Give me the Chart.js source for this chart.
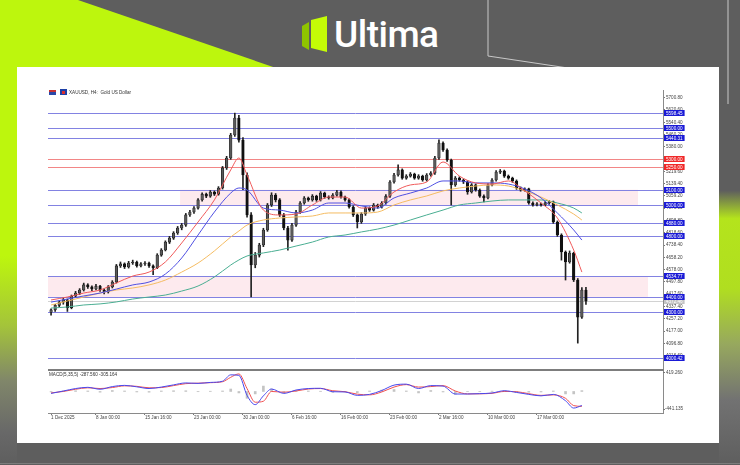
<!DOCTYPE html>
<html>
<head>
<meta charset="utf-8">
<title>XAUUSD H4 - Ultima</title>
<script src="https://cdn.jsdelivr.net/npm/chart.js@4.4.1/dist/chart.umd.min.js"></script>
<style>
  html, body { margin: 0; padding: 0; }
  body { width: 740px; height: 465px; overflow: hidden; position: relative; background: #5e5e5e; }
  #backdrop { position: absolute; left: 0; top: 0; }
  #logoText { position: absolute; left: 334px; top: 13px; color: #fff; font: 500 37px Roboto, sans-serif; letter-spacing: -0.5px; line-height: 44px; }
  #panel { position: absolute; left: 17px; top: 67px; width: 702px; height: 376px; background: #fff; }
  #priceChart { position: absolute; left: 17px; top: 67px; }
  #macdChart { position: absolute; left: 17px; top: 369px; }
</style>
</head>
<body>
<svg id="backdrop" width="740" height="465">
  <defs>
    <linearGradient id="leftFade" gradientUnits="userSpaceOnUse" x1="0" y1="0" x2="0" y2="465">
      <stop offset="0" stop-color="#bdf60d"/>
      <stop offset="0.55" stop-color="#bdf60d"/>
      <stop offset="0.7" stop-color="#a4c43a"/>
      <stop offset="0.82" stop-color="#80866a"/>
      <stop offset="0.93" stop-color="#686868"/>
      <stop offset="1" stop-color="#5e5e5e"/>
    </linearGradient>
    <linearGradient id="rightFade" gradientUnits="userSpaceOnUse" x1="0" y1="0" x2="0" y2="465">
      <stop offset="0" stop-color="#5e5e5e"/>
      <stop offset="0.41" stop-color="#5e5e5e"/>
      <stop offset="0.47" stop-color="#b4e41c"/>
      <stop offset="0.62" stop-color="#b0de20"/>
      <stop offset="0.74" stop-color="#97a85e"/>
      <stop offset="0.86" stop-color="#727272"/>
      <stop offset="1" stop-color="#5e5e5e"/>
    </linearGradient>
  </defs>
  <rect x="0" y="0" width="740" height="465" fill="#5e5e5e"/>
  <rect x="0" y="0" width="17" height="465" fill="url(#leftFade)"/>
  <polygon points="0,0 78,0 282,70 0,70" fill="#bdf60d"/>
  <rect x="719" y="0" width="21" height="465" fill="url(#rightFade)"/>
  <polyline points="488,0 488,56 568,68" fill="none" stroke="#c8c8c8" stroke-width="1"/>
  <polyline points="728,0 728,104" fill="none" stroke="#c8c8c8" stroke-width="1"/>
  <line x1="0" y1="463.5" x2="740" y2="463.5" stroke="#7c7c7c" stroke-width="1"/>
  <polygon points="302,26 309,22 309,50 302,46" fill="#8fc400"/>
  <polygon points="311,20 327,16 327,52 311,48" fill="#c4fc06"/>
</svg>
<div id="logoText">Ultima</div>
<div id="panel"></div>
<canvas id="priceChart" width="702" height="304"></canvas>
<canvas id="macdChart" width="702" height="74"></canvas>
<script>
const timeLabels = ['1 Dec 2025', '8 Jan 00:00', '15 Jan 16:00', '23 Jan 00:00', '30 Jan 00:00', '6 Feb 16:00',
    '16 Feb 00:00', '23 Feb 00:00', '2 Mar 16:00', '10 Mar 00:00', '17 Mar 00:00'];
const timeLabelBars = [0, 11, 23, 35, 47, 59, 71, 83, 95, 107, 119];

const priceTicks = [5700.8, 5620.6, 5540.4, 5460.2, 5380.0, 5299.8, 5219.6, 5139.4, 5059.2, 4979.0, 4898.8,
    4818.6, 4738.4, 4658.2, 4578.0, 4497.8, 4417.6, 4337.4, 4257.2, 4177.0, 4096.8, 4016.6];

// H4 candles, one per bar index
const barOpen = [4300,4315,4345,4365,4380,4330,4405,4425,4445,4478,
    4465,4452,4470,4445,4432,4465,4497,4602,4615,4595,
    4621,4628,4602,4615,4621,4602,4590,4673,4706,4758,
    4784,4817,4850,4869,4935,4954,4980,5033,5071,5058,
    5085,5071,5111,5242,5307,5457,5568,5424,5196,4935,
    4608,4673,4739,4837,5000,5065,5033,4935,4850,4771,
    4869,4954,5013,5046,5033,5058,5033,5078,5052,5046,
    5065,5085,5052,5033,4987,4935,4889,4941,4980,4967,
    5000,4987,5013,5058,5150,5196,5229,5176,5189,5202,
    5176,5189,5163,5196,5209,5307,5405,5359,5294,5131,
    5176,5163,5150,5085,5131,5098,5058,5046,5131,5163,
    5215,5222,5189,5176,5157,5111,5098,5105,5013,5000,
    5007,5000,5013,5020,4889,4804,4693,4628,4686,4510,
    4268,4445];
const barHigh = [4322,4352,4372,4392,4386,4412,4436,4454,4490,4486,
    4472,4482,4476,4452,4474,4506,4612,4628,4622,4632,
    4640,4634,4624,4630,4627,4610,4682,4715,4766,4795,
    4826,4860,4880,4945,4965,4990,5042,5080,5078,5095,
    5092,5120,5252,5318,5468,5600,5585,5440,5210,4950,
    4690,4750,4848,5010,5080,5075,5042,4945,4860,4880,
    4965,5022,5055,5052,5068,5064,5088,5084,5060,5075,
    5095,5092,5058,5040,4995,4942,4950,4990,4988,5010,
    5006,5022,5068,5160,5206,5262,5236,5198,5212,5208,
    5198,5195,5205,5218,5318,5425,5412,5366,5300,5186,
    5184,5170,5158,5140,5138,5105,5066,5140,5172,5225,
    5232,5228,5196,5182,5164,5118,5112,5110,5020,5015,
    5012,5022,5030,5026,4896,4812,4700,4700,4692,4520,
    4460,4462];
const barLow = [4280,4305,4335,4352,4305,4322,4398,4415,4438,4455,
    4440,4445,4436,4420,4425,4458,4490,4592,4585,4588,
    4612,4594,4596,4605,4592,4545,4584,4665,4700,4748,
    4775,4808,4838,4860,4925,4945,4972,5025,5048,5050,
    5062,5064,5104,5232,5298,5448,5410,5100,4920,4400,
    4590,4660,4728,4828,4990,5020,4925,4838,4705,4762,
    4860,4945,5005,5024,5025,5024,5026,5044,5038,5040,
    5058,5045,5025,4980,4925,4850,4880,4932,4958,4960,
    4978,4980,5005,5050,5142,5188,5168,5168,5182,5168,
    5168,5155,5156,5188,5200,5298,5350,5285,5000,5122,
    5155,5140,5070,5078,5090,5050,5020,5040,5124,5156,
    5205,5180,5168,5148,5102,5090,5090,5005,4992,4994,
    4992,4995,5005,4880,4795,4640,4510,4620,4500,4098,
    4260,4350];
const barClose = [4315,4345,4365,4380,4330,4405,4425,4445,4478,4465,
    4452,4470,4445,4432,4465,4497,4602,4615,4595,4621,
    4628,4602,4615,4621,4602,4590,4673,4706,4758,4784,
    4817,4850,4869,4935,4954,4980,5033,5071,5058,5085,
    5071,5111,5242,5307,5457,5568,5424,5196,4935,4608,
    4673,4739,4837,5000,5065,5033,4935,4850,4771,4869,
    4954,5013,5046,5033,5058,5033,5078,5052,5046,5065,
    5085,5052,5033,4987,4935,4889,4941,4980,4967,5000,
    4987,5013,5058,5150,5196,5229,5176,5189,5202,5176,
    5189,5163,5196,5209,5307,5405,5359,5294,5131,5176,
    5163,5150,5085,5131,5098,5058,5046,5131,5163,5215,
    5222,5189,5176,5157,5111,5098,5105,5013,5000,5007,
    5000,5013,5020,4889,4804,4693,4628,4686,4510,4268,
    4445,4372];

// moving averages at these bars
const maBars = [0,4,8,12,16,20,24,28,32,36,40,44,46,48,52,56,60,64,68,72,76,80,84,88,92,96,100,104,108,112,116,120,124,128,130];
const maFast = [4380,4399,4425,4445,4491,4536,4562,4628,4752,4889,5033,5229,5307,5196,4967,4935,4941,5000,5052,5052,4980,4994,5085,5131,5150,5281,5189,5144,5137,5157,5092,5013,4915,4706,4562];
const maMid = [4366,4386,4406,4425,4451,4478,4497,4549,4654,4804,4954,5078,5111,5098,4980,4967,4948,4967,5013,5013,4994,4980,5046,5078,5111,5157,5157,5144,5144,5137,5105,5046,4948,4837,4771];
const maSlow = [4347,4373,4399,4425,4445,4458,4478,4510,4562,4621,4700,4791,4830,4869,4902,4915,4922,4928,4948,4948,4948,4954,5000,5033,5059,5092,5111,5124,5131,5124,5092,5052,5000,4941,4902];
const maLong = [4327,4334,4347,4354,4367,4386,4399,4412,4438,4471,4530,4608,4641,4667,4687,4706,4732,4758,4791,4804,4824,4843,4869,4902,4935,4967,5000,5013,5026,5033,5033,5033,5013,4980,4948];

const blueLevels = [5598.45, 5500, 5440.31, 5100, 5000, 4880, 4800, 4534.77, 4400, 4300, 4000.42];
const redLevels = [5300, 5250];
const bidPrice = 4372.46;

const zoneTop = [5100, 4534.77];
const zoneBottom = [5000, 4400];
const zoneFromBar = [31.6, -0.75];
const zoneToBar = [143.75, 146.2];

const macdBars = [0,3,6,9,12,15,18,21,24,27,30,33,36,39,42,44,46,48,50,52,54,57,60,63,66,69,72,75,78,81,84,87,90,93,96,99,102,105,108,111,114,117,120,123,126,128,130];
const macdMain = [-40,9,60,85,45,100,125,95,60,90,135,175,165,185,210,340,330,-80,-270,-90,50,-40,30,60,65,-5,-10,-80,-60,20,130,150,60,120,110,-52,-52,-45,-31,15,-20,-60,-90,-60,-190,-340,-287.56];
const macdSignal = [-30,0,45,75,60,80,115,105,75,80,120,160,170,180,200,290,360,60,-220,-200,0,-15,10,50,60,15,-5,-55,-70,-10,90,140,90,100,120,10,-50,-48,-38,0,-5,-45,-80,-70,-140,-290,-305.164];
const macdHist = [-10,9,15,10,-15,20,10,-10,-15,10,15,15,-5,5,10,50,-30,-140,-50,110,50,-25,20,10,5,-20,-5,-25,10,30,40,10,-30,20,-10,-60,-2,3,7,15,-15,-15,-10,10,-50,-50,17];
const macdTop = 419.26;
const macdBottom = -441.135;

const xMin = -0.75;
const xMax = 149.87;
const tinyFont = '4.6px "Liberation Sans"';

Chart.defaults.font.family = '"Liberation Sans", Arial, sans-serif';

const barIndex = barClose.map((_, i) => i);
const wickData = barIndex.map(i => ({ x: i, y: [barLow[i], barHigh[i]] }));
const bodyData = barIndex.map(i => ({ x: i, y: [barOpen[i], barClose[i]] }));
const bodyFill = barIndex.map(i => barClose[i] >= barOpen[i] ? '#5a5a5a' : '#111111');

function maLine(values, color) {
    return {
        type: 'line',
        data: maBars.map((b, k) => ({ x: b, y: values[k] })),
        borderColor: color,
        borderWidth: 1,
        pointRadius: 0,
        cubicInterpolationMode: 'monotone',
        order: 0
    };
}

const mtObjects = {
    id: 'mtObjects',
    beforeDatasetsDraw(chart) {
        const { ctx, chartArea: a, scales: { x, y } } = chart;
        ctx.save();
        ctx.beginPath();
        ctx.rect(a.left, a.top, a.right - a.left, a.bottom - a.top);
        ctx.clip();
        ctx.fillStyle = '#fdeaee';
        zoneTop.forEach((top, k) => {
            const x1 = x.getPixelForValue(zoneFromBar[k]);
            const x2 = x.getPixelForValue(zoneToBar[k]);
            const y1 = y.getPixelForValue(top);
            const y2 = y.getPixelForValue(zoneBottom[k]);
            ctx.fillRect(x1, y1, x2 - x1, y2 - y1);
        });
        ctx.lineWidth = 1;
        const hline = (p, color) => {
            const py = Math.round(y.getPixelForValue(p)) + 0.5;
            ctx.strokeStyle = color;
            ctx.beginPath();
            ctx.moveTo(a.left, py);
            ctx.lineTo(a.right, py);
            ctx.stroke();
        };
        hline(bidPrice, '#d2d2d2');
        blueLevels.forEach(p => hline(p, '#8282e2'));
        redLevels.forEach(p => hline(p, '#f28686'));
        ctx.restore();
    },
    afterDraw(chart) {
        const { ctx, chartArea: a, scales: { y } } = chart;
        ctx.save();
        ctx.font = tinyFont;
        ctx.textBaseline = 'middle';
        ctx.textAlign = 'left';
        const tag = (p, bg) => {
            const py = Math.round(y.getPixelForValue(p));
            const text = p.toFixed(2);
            const w = ctx.measureText(text).width + 4;
            ctx.fillStyle = bg;
            ctx.fillRect(a.right + 1, py - 3, w, 6);
            ctx.fillStyle = '#ffffff';
            ctx.fillText(text, a.right + 3, py + 0.5);
        };
        tag(bidPrice, '#c4c4c4');
        blueLevels.forEach(p => tag(p, '#1a1ad6'));
        redLevels.forEach(p => tag(p, '#f02828'));

        ctx.fillStyle = '#7d7d7d';
        ctx.fillRect(a.left, a.bottom, a.right - a.left + 1, 2);

        // symbol header
        ctx.fillStyle = '#c83232';
        ctx.fillRect(a.left + 1, a.top, 7, 2);
        ctx.fillStyle = '#2a48a8';
        ctx.fillRect(a.left + 1, a.top + 2, 7, 3);
        ctx.fillStyle = '#1d3fa6';
        ctx.fillRect(a.left + 12, a.top - 1, 7, 6);
        ctx.fillStyle = '#d83030';
        ctx.fillRect(a.left + 14, a.top + 1, 3, 3);
        ctx.fillStyle = '#333333';
        ctx.fillText('XAUUSD, H4:  Gold US Dollar', a.left + 21, a.top + 2.5);
        ctx.restore();
    }
};

new Chart(document.getElementById('priceChart'), {
    type: 'bar',
    data: {
        datasets: [
            maLine(maFast, '#f05a5a'),
            maLine(maMid, '#5050e2'),
            maLine(maSlow, '#f5bc62'),
            maLine(maLong, '#4aae92'),
            {
                type: 'bar',
                data: bodyData,
                backgroundColor: bodyFill,
                borderColor: '#111111',
                borderWidth: 0.6,
                borderSkipped: false,
                barThickness: 2.6,
                grouped: false,
                order: 5
            },
            {
                type: 'bar',
                data: wickData,
                backgroundColor: '#222222',
                barThickness: 1,
                grouped: false,
                order: 6
            }
        ]
    },
    options: {
        responsive: false,
        animation: false,
        events: [],
        layout: { padding: { left: 31, top: 23, right: 0, bottom: 2 } },
        plugins: { legend: { display: false }, tooltip: { enabled: false } },
        scales: {
            x: { type: 'linear', min: xMin, max: xMax, offset: false, display: false },
            y: {
                position: 'right',
                min: 3929,
                max: 5751,
                afterBuildTicks: s => { s.ticks = priceTicks.map(v => ({ value: v })); },
                afterFit: s => { s.width = 56; s.paddingTop = 0; s.paddingBottom = 0; },
                grid: { drawOnChartArea: false, tickLength: 2, color: '#777777' },
                border: { color: '#8a8a8a' },
                ticks: {
                    autoSkip: false,
                    padding: 1,
                    color: '#444444',
                    font: { size: 4.6 },
                    callback: v => v.toFixed(2)
                }
            }
        }
    },
    plugins: [mtObjects]
});

const macdDecor = {
    id: 'macdDecor',
    afterDraw(chart) {
        const { ctx, chartArea: a } = chart;
        ctx.save();
        ctx.fillStyle = '#7d7d7d';
        ctx.fillRect(a.left, a.top - 2, a.right - a.left + 1, 2);
        ctx.font = tinyFont;
        ctx.textBaseline = 'middle';
        ctx.textAlign = 'left';
        ctx.fillStyle = '#333333';
        const last = macdMain.length - 1;
        ctx.fillText('MACD(5,35,5) ' + macdMain[last].toFixed(3) + ' ' + macdSignal[last].toFixed(3), a.left + 1, a.top + 4);
        ctx.fillStyle = '#444444';
        ctx.fillText(macdTop.toFixed(3), a.right + 3, a.top + 2);
        ctx.fillText(macdBottom.toFixed(3), a.right + 2, a.bottom - 4);
        ctx.fillStyle = '#777777';
        ctx.fillRect(a.right, a.top + 1, 2, 1);
        ctx.fillRect(a.right, a.bottom - 4, 2, 1);
        ctx.restore();
    }
};

new Chart(document.getElementById('macdChart'), {
    type: 'bar',
    data: {
        datasets: [
            {
                type: 'line',
                data: macdBars.map((b, k) => ({ x: b, y: macdMain[k] })),
                borderColor: '#4848ee',
                borderWidth: 1,
                pointRadius: 0,
                cubicInterpolationMode: 'monotone',
                order: 0
            },
            {
                type: 'line',
                data: macdBars.map((b, k) => ({ x: b, y: macdSignal[k] })),
                borderColor: '#f05050',
                borderWidth: 1,
                pointRadius: 0,
                cubicInterpolationMode: 'monotone',
                order: 1
            },
            {
                type: 'bar',
                data: macdBars.map((b, k) => ({ x: b, y: macdHist[k] })),
                backgroundColor: '#c4c4c4',
                barThickness: 2,
                grouped: false,
                order: 3
            }
        ]
    },
    options: {
        responsive: false,
        animation: false,
        events: [],
        layout: { padding: { left: 31, top: 2, right: 0, bottom: 0 } },
        plugins: { legend: { display: false }, tooltip: { enabled: false } },
        scales: {
            x: {
                type: 'linear',
                min: xMin,
                max: xMax,
                offset: false,
                afterBuildTicks: s => { s.ticks = timeLabelBars.map(v => ({ value: v })); },
                afterFit: s => { s.height = 30; s.paddingLeft = 0; s.paddingRight = 0; },
                grid: { drawOnChartArea: false, tickLength: 2, color: '#777777', offset: false },
                border: { color: '#8a8a8a' },
                ticks: {
                    autoSkip: false,
                    maxRotation: 0,
                    minRotation: 0,
                    align: 'start',
                    padding: 0,
                    color: '#444444',
                    font: { size: 4.6 },
                    callback: v => timeLabels[timeLabelBars.indexOf(v)]
                }
            },
            y: {
                position: 'right',
                min: macdBottom,
                max: macdTop,
                afterFit: s => { s.width = 56; s.paddingTop = 0; s.paddingBottom = 0; },
                grid: { display: false },
                border: { color: '#8a8a8a' },
                ticks: { display: false }
            }
        }
    },
    plugins: [macdDecor]
});
</script>
</body>
</html>
